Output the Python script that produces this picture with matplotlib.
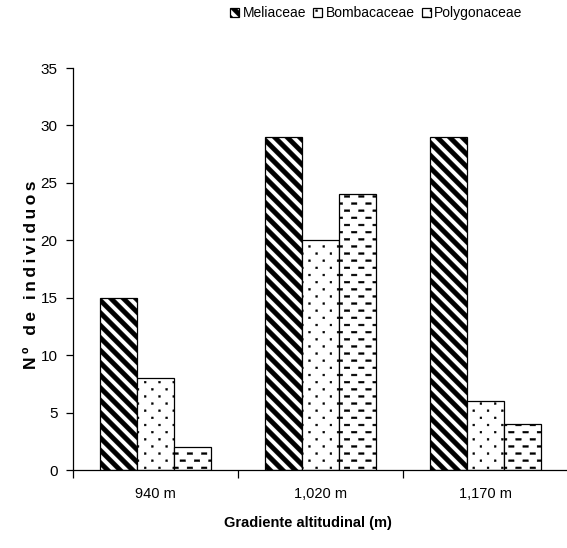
import numpy as np
import matplotlib
matplotlib.use("Agg")
import matplotlib.pyplot as plt
import matplotlib.hatch as mhatch
from matplotlib.path import Path

altitudes = ["940 m", "1,020 m", "1,170 m"]
familias = ["Meliaceae", "Bombacaceae", "Polygonaceae"]
meliaceae = [15, 29, 29]
bombacaceae = [8, 20, 6]
polygonaceae = [2, 24, 4]

NARROW = ["Liberation Sans Narrow", "Arial Narrow", "Liberation Sans", "DejaVu Sans"]
SANS = ["Liberation Sans", "DejaVu Sans"]


# --- tramas propias (bandas diagonales, guiones y puntos), todo en relleno ---
def _rect(x0, y0, w, h):
    return [(x0, y0), (x0 + w, y0), (x0 + w, y0 + h), (x0, y0 + h), (x0, y0)]


POLY_CODES = [Path.MOVETO, Path.LINETO, Path.LINETO, Path.LINETO, Path.CLOSEPOLY]


class Bandas(mhatch.HatchPatternBase):
    def __init__(self, hatch, density):
        self.n = hatch.count('\\') * 8
        self.num_vertices = (2 * self.n + 1) * 5 if self.n else 0

    def set_vertices_and_codes(self, vertices, codes):
        d = 0.032
        for j in range(2 * self.n + 1):
            k = j / self.n
            pts = [(-1, k - d + 1), (2, k - d - 2), (2, k + d - 2),
                   (-1, k + d + 1), (-1, k - d + 1)]
            vertices[j * 5:(j + 1) * 5] = pts
            codes[j * 5:(j + 1) * 5] = POLY_CODES


class Rejilla(mhatch.HatchPatternBase):
    # filas alternadas de pequenas figuras rellenas
    char = '-'
    w, h = 0.055, 0.018
    filas, cols = 14, 7

    def __init__(self, hatch, density):
        self.on = hatch.count(self.char) > 0
        self.num_vertices = self.filas * self.cols * 5 if self.on else 0

    def set_vertices_and_codes(self, vertices, codes):
        c = 0
        for i in range(self.filas):
            y = (i + 0.5) / self.filas - self.h / 2
            for j in range(self.cols):
                x = (j + 0.5 * (i % 2) + 0.1) / self.cols
                vertices[c:c + 5] = _rect(x, y, self.w, self.h)
                codes[c:c + 5] = POLY_CODES
                c += 5


class Guiones(Rejilla):
    char = '-'


class Puntos(Rejilla):
    char = '.'
    w, h = 0.018, 0.018


mhatch._hatch_types = [Bandas, Guiones, Puntos]

plt.rcParams['hatch.linewidth'] = 0.3
plt.rcParams['hatch.color'] = 'black'
plt.rcParams['font.family'] = NARROW

fig = plt.figure(figsize=(5.67, 5.48), dpi=100)
ax = fig.add_axes([73 / 567, 78 / 548, 495 / 567, 402 / 548])

x = np.arange(len(altitudes))
w = 0.224
series = [meliaceae, bombacaceae, polygonaceae]
tramas = ['\\', '.', '-']
for i, (vals, nombre, h) in enumerate(zip(series, familias, tramas)):
    ax.bar(x + (i - 1) * w, vals, w, color='white', edgecolor='black',
           linewidth=0.9, hatch=h, label=nombre)

ax.set_xlim(-0.5, 2.5)
ax.set_ylim(0, 35)
ax.set_yticks(range(0, 36, 5))
ax.set_xticks(x)
ax.set_xticklabels(altitudes)
ax.set_xticks([-0.5, 0.5, 1.5, 2.5], minor=True)
ax.tick_params(axis='x', which='major', length=0, pad=12, labelsize=10.5)
ax.tick_params(axis='x', which='minor', length=6, width=0.9)
ax.tick_params(axis='y', length=5, width=0.9, pad=6, labelsize=11)
for s in ['top', 'right']:
    ax.spines[s].set_visible(False)
for s in ['left', 'bottom']:
    ax.spines[s].set_linewidth(0.9)

ax.set_xlabel("Gradiente altitudinal (m)", fontsize=10.5, fontweight='bold')
ax.xaxis.set_label_coords(0.474, -0.115)
ax.set_ylabel("\u2009".join("Nº de individuos"), fontsize=12.5,
              fontweight='bold', family=SANS)
ax.yaxis.set_label_coords(-0.068, 0.485)

fig.legend(loc='center', bbox_to_anchor=(0.664, 0.976), ncol=3, frameon=False,
           fontsize=10, handlelength=0.65, handleheight=0.65,
           handletextpad=0.25, columnspacing=0.5, borderpad=0)

fig.savefig("out.png", dpi=100)
